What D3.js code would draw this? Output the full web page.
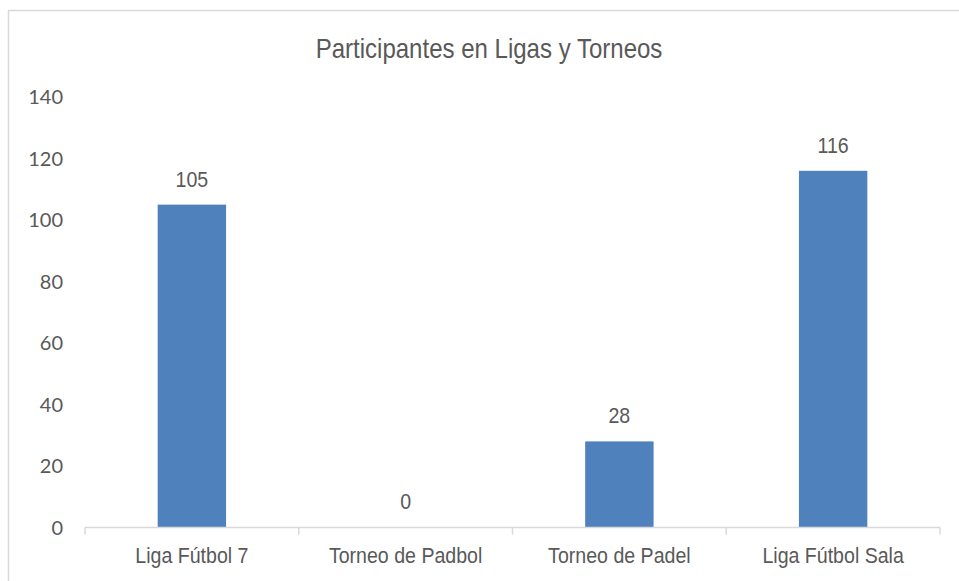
<!DOCTYPE html>
<html>
<head>
<meta charset="utf-8">
<script src="https://cdn.jsdelivr.net/npm/d3@7"></script>
<style>
  body { margin: 0; background: #fff; }
  svg text { fill: #595959; }
</style>
</head>
<body>
<div id="chart"></div>
<script>
// chart data
const categories = ["Liga Fútbol 7", "Torneo de Padbol", "Torneo de Padel", "Liga Fútbol Sala"];
const participants = [105, 0, 28, 116];
const yTicks = [0, 20, 40, 60, 80, 100, 120, 140];
const chartTitle = "Participantes en Ligas y Torneos";

const W = 959, H = 581;
const margin = {top: 97, right: 19, bottom: 53.5, left: 85};
const width = W - margin.left - margin.right;
const height = H - margin.top - margin.bottom;

// no narrow font installed, so squeeze Liberation Sans horizontally
const narrow = "'Liberation Sans', Arial, sans-serif";
const squeeze = 0.89;
const place = (px, py) => "translate(" + px + "," + py + ") scale(" + squeeze + ",1)";

const svg = d3.select("#chart")
    .append("svg")
    .attr("width", W)
    .attr("height", H);

// outer frame
svg.append("rect")
    .attr("x", 8.5)
    .attr("y", 10.5)
    .attr("width", 960)
    .attr("height", 600)
    .attr("fill", "none")
    .attr("stroke", "#d9d9d9")
    .attr("stroke-width", 1.5);

svg.append("text")
    .attr("transform", place(489, 58))
    .attr("text-anchor", "middle")
    .style("font-family", narrow)
    .style("font-size", "27px")
    .text(chartTitle);

const g = svg.append("g")
    .attr("transform", "translate(" + margin.left + "," + margin.top + ")");

const x = d3.scaleBand()
    .domain(categories)
    .range([0, width])
    .paddingInner(0.68)
    .paddingOuter(0.34);

const y = d3.scaleLinear()
    .domain([0, 140])
    .range([height, 0]);

// y labels, no axis line
g.append("g")
    .selectAll("text")
    .data(yTicks)
    .enter()
    .append("text")
    .attr("x", -22)
    .attr("y", d => y(d))
    .attr("dy", "0.36em")
    .attr("text-anchor", "end")
    .style("font-family", "Lato, sans-serif")
    .style("font-size", "20px")
    .text(d => d);

// bars
g.selectAll(".bar")
    .data(participants)
    .enter()
    .append("rect")
    .attr("class", "bar")
    .attr("x", (d, i) => x(categories[i]))
    .attr("y", d => y(d))
    .attr("width", x.bandwidth())
    .attr("height", d => height - y(d))
    .attr("fill", "#4f81bd");

// value labels
g.selectAll(".val")
    .data(participants)
    .enter()
    .append("text")
    .attr("class", "val")
    .attr("transform", (d, i) => place(x(categories[i]) + x.bandwidth() / 2, y(d) - 26))
    .attr("dy", "0.36em")
    .attr("text-anchor", "middle")
    .style("font-family", narrow)
    .style("font-size", "22px")
    .text(d => d);

// x axis with ticks between categories
const xAxis = g.append("g")
    .attr("transform", "translate(0," + height + ")");

xAxis.append("line")
    .attr("x1", 0)
    .attr("x2", width)
    .attr("stroke", "#d9d9d9")
    .attr("stroke-width", 1.5);

const step = width / categories.length;
xAxis.selectAll(".tick")
    .data(d3.range(categories.length + 1))
    .enter()
    .append("line")
    .attr("x1", d => d * step)
    .attr("x2", d => d * step)
    .attr("y1", 0)
    .attr("y2", 7)
    .attr("stroke", "#d9d9d9")
    .attr("stroke-width", 1.5);

xAxis.selectAll(".cat")
    .data(categories)
    .enter()
    .append("text")
    .attr("transform", d => place(x(d) + x.bandwidth() / 2, 28))
    .attr("dy", "0.36em")
    .attr("text-anchor", "middle")
    .style("font-family", narrow)
    .style("font-size", "22px")
    .text(d => d);
</script>
</body>
</html>
